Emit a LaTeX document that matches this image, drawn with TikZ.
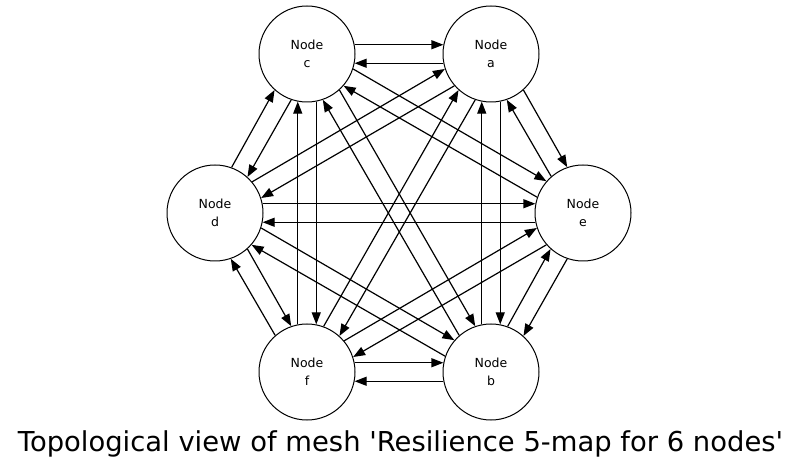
\documentclass[tikz,border=0pt]{standalone}
\usepackage{fontspec}
\setmainfont{DejaVu Sans}
\usetikzlibrary{arrows.meta,calc}

\begin{document}
\begin{tikzpicture}[
    x=1pt, y=1pt,
    meshnode/.style={draw, circle, minimum size=96pt, inner sep=0pt,
                line width=1pt, align=center,
                font=\fontsize{12.5}{18}\selectfont},
    arr/.style={-{Triangle[length=12pt, width=9pt]}, line width=1.2pt},
]
  \useasboundingbox (0,0) rectangle (799,471);

  \node[meshnode] (c) at (307,417) {Node\\c};
  \node[meshnode] (a) at (491,417) {Node\\a};
  \node[meshnode] (d) at (215,258) {Node\\d};
  \node[meshnode] (e) at (583,258) {Node\\e};
  \node[meshnode] (f) at (307,99) {Node\\f};
  \node[meshnode] (b) at (491,99) {Node\\b};

  % every pair of nodes is joined both ways
  \foreach \s/\t in {a/b, a/c, a/d, a/e, a/f, b/c, b/d, b/e, b/f,
                     c/d, c/e, c/f, d/e, d/f, e/f}{
    \draw[arr] let \p1=($(\t)-(\s)$), \n1={atan2(\y1,\x1)} in
      (\s.{\n1+11}) -- (\t.{\n1+169});
    \draw[arr] let \p1=($(\s)-(\t)$), \n1={atan2(\y1,\x1)} in
      (\t.{\n1+11}) -- (\s.{\n1+169});
  }

  \node[anchor=base, font=\fontsize{27.4}{32}\selectfont] (title) at (400.5,20)
    {Topological view of mesh \textquotesingle Resilience 5-map for 6 nodes\textquotesingle};
\end{tikzpicture}
\end{document}
